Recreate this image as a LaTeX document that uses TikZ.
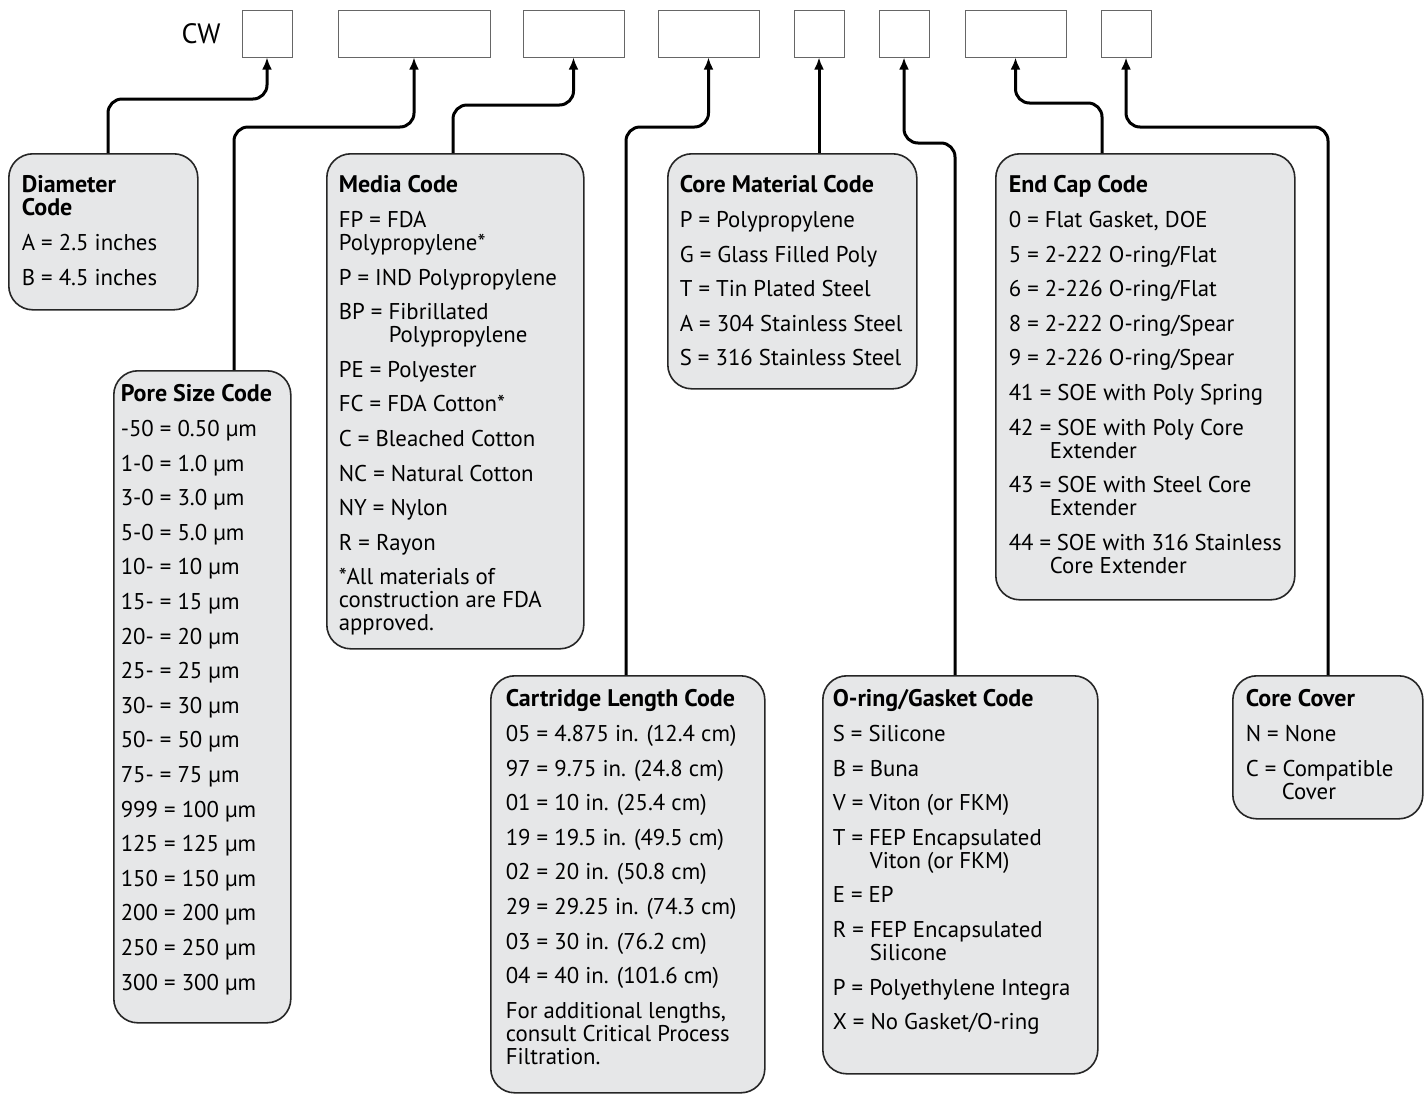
\documentclass[tikz,border=0pt]{standalone}
\usepackage{fontspec}
\setmainfont{PT Sans}
\usetikzlibrary{arrows.meta}
\definecolor{boxgray}{HTML}{E6E7E8}
\newcommand\codefont{\fontsize{11.4pt}{11.5pt}\selectfont\setlength{\parskip}{5.8pt}}
\newcommand\codetitle[1]{{\fontsize{12pt}{11.5pt}\selectfont\bfseries #1}\par}

\begin{document}
\begin{tikzpicture}[x=0.5pt, y=-0.5pt,
slot/.style={draw=black!60, line width=0.5pt, fill=white, minimum height=23.5pt, inner sep=0pt},
codebox/.style={draw=black!85, line width=0.8pt, fill=boxgray, rounded corners=12pt,
  inner xsep=6.5pt, inner ysep=11pt, anchor=north west},
lowbox/.style={codebox, inner ysep=7pt},
link/.style={line width=1.5pt, rounded corners=7pt, -{Latex[length=6pt,width=5pt]}}]
\useasboundingbox (0,0) rectangle (1427,1093);

\node[font=\fontsize{14pt}{16pt}\selectfont] (cw) at (201,34) {CW};
\node[slot, minimum width=25pt] (s1) at (267,33.5) {};
\node[slot, minimum width=76pt] (s2) at (414,33.5) {};
\node[slot, minimum width=50.5pt] (s3) at (573.5,33.5) {};
\node[slot, minimum width=50.5pt] (s4) at (708.5,33.5) {};
\node[slot, minimum width=25pt] (s5) at (819,33.5) {};
\node[slot, minimum width=25pt] (s6) at (904,33.5) {};
\node[slot, minimum width=50.5pt] (s7) at (1015.5,33.5) {};
\node[slot, minimum width=25pt] (s8) at (1126,33.5) {};

\node[codebox] (dia) at (8,153) {\parbox[c][56pt][t]{81.5pt}{\codefont
  \codetitle{Diameter\\Code}
  A = 2.5 inches\par
  B = 4.5 inches}};
\node[lowbox, inner xsep=3.5pt] (pore) at (113,370) {\parbox[c][312pt][t]{81.5pt}{\codefont
  \codetitle{Pore Size Code}
  -50 = 0.50 µm\par 1-0 = 1.0 µm\par 3-0 = 3.0 µm\par 5-0 = 5.0 µm\par
  10- = 10 µm\par 15- = 15 µm\par 20- = 20 µm\par 25- = 25 µm\par
  30- = 30 µm\par 50- = 50 µm\par 75- = 75 µm\par 999 = 100 µm\par
  125 = 125 µm\par 150 = 150 µm\par 200 = 200 µm\par 250 = 250 µm\par
  300 = 300 µm}};
\node[codebox, inner xsep=6pt] (media) at (326,153) {\parbox[c][225.5pt][t]{116.5pt}{\codefont
  \codetitle{Media Code}
  FP = FDA\\Polypropylene*\par
  P = IND Polypropylene\par
  BP = Fibrillated\\\hspace*{25pt}Polypropylene\par
  PE = Polyester\par
  FC = FDA Cotton*\par
  C = Bleached Cotton\par
  NC = Natural Cotton\par
  NY = Nylon\par
  R = Rayon\par
  *All materials of\\construction are FDA\\approved.}};
\node[codebox, inner xsep=6pt] (core) at (667,153) {\parbox[c][95.5pt][t]{112.5pt}{\codefont
  \codetitle{Core Material Code}
  P = Polypropylene\par
  G = Glass Filled Poly\par
  T = Tin Plated Steel\par
  A = 304 Stainless Steel\par
  S = 316 Stainless Steel}};
\node[codebox] (endcap) at (995,153) {\parbox[c][201pt][t]{136.5pt}{\codefont
  \codetitle{End Cap Code}
  0 = Flat Gasket, DOE\par
  5 = 2-222 O-ring/Flat\par
  6 = 2-226 O-ring/Flat\par
  8 = 2-222 O-ring/Spear\par
  9 = 2-226 O-ring/Spear\par
  41 = SOE with Poly Spring\par
  42 = SOE with Poly Core\\\hspace*{20.5pt}Extender\par
  43 = SOE with Steel Core\\\hspace*{20.5pt}Extender\par
  44 = SOE with 316 Stainless\\\hspace*{20.5pt}Core Extender}};
\node[lowbox, inner xsep=7.5pt] (cart) at (490,675) {\parbox[c][194.5pt][t]{122pt}{\codefont
  \codetitle{Cartridge Length Code}
  05 = 4.875 in. (12.4 cm)\par
  97 = 9.75 in. (24.8 cm)\par
  01 = 10 in. (25.4 cm)\par
  19 = 19.5 in. (49.5 cm)\par
  02 = 20 in. (50.8 cm)\par
  29 = 29.25 in. (74.3 cm)\par
  03 = 30 in. (76.2 cm)\par
  04 = 40 in. (101.6 cm)\par
  For additional lengths,\\consult Critical Process\\Filtration.}};
\node[lowbox, inner xsep=5pt] (oring) at (822,675) {\parbox[c][185pt][t]{127.5pt}{\codefont
  \codetitle{O-ring/Gasket Code}
  S = Silicone\par
  B = Buna\par
  V = Viton (or FKM)\par
  T = FEP Encapsulated\\\hspace*{18.5pt}Viton (or FKM)\par
  E = EP\par
  R = FEP Encapsulated\\\hspace*{18.5pt}Silicone\par
  P = Polyethylene Integra\par
  X = No Gasket/O-ring}};
\node[lowbox] (cover) at (1232,675) {\parbox[c][57.5pt][t]{82pt}{\codefont
  \codetitle{Core Cover}
  N = None\par
  C = Compatible\\\hspace*{18pt}Cover}};

\draw[link] ([xshift=50pt]dia.north west) -- ++(0,-54) -| (s1.south);
\draw[link] ([xshift=60.5pt]pore.north west) -- ++(0,-243) -| (s2.south);
\draw[link] ([xshift=63.5pt]media.north west) -- ++(0,-48) -| (s3.south);
\draw[link] ([xshift=68pt]cart.north west) -- ++(0,-548) -| (s4.south);
\draw[link] (s5.south |- core.north) -- (s5.south);
\draw[link] ([xshift=66.5pt]oring.north west) -- ++(0,-532) -| (s6.south);
\draw[link] ([xshift=53.5pt]endcap.north west) -- ++(0,-50) -| (s7.south);
\draw[link] ([xshift=48pt]cover.north west) -- ++(0,-548) -| (s8.south);
\end{tikzpicture}
\end{document}
